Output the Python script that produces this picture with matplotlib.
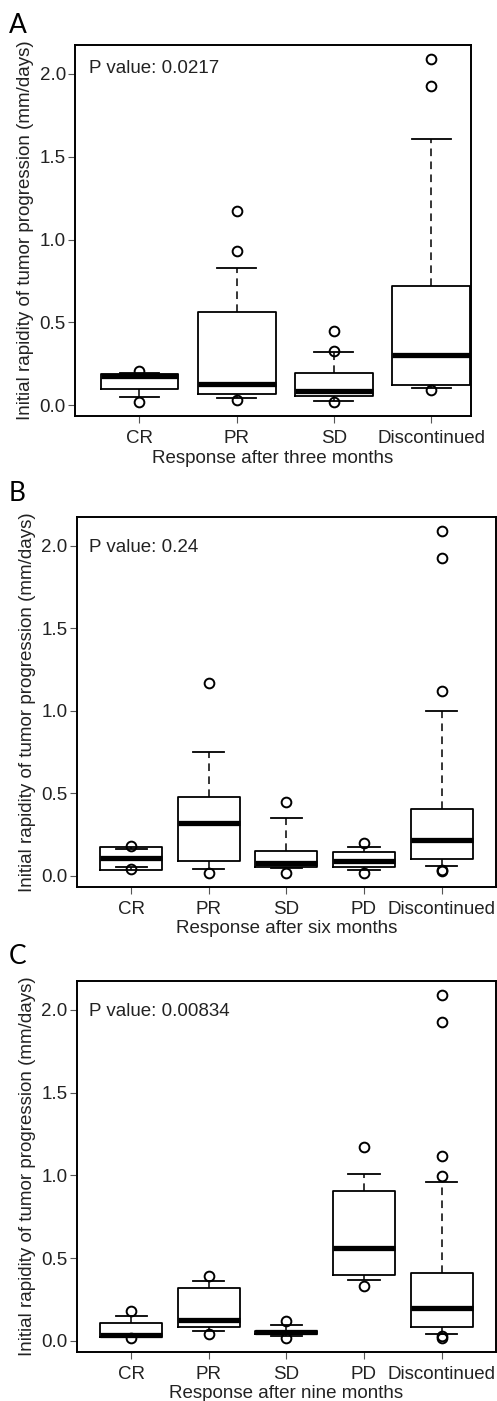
import matplotlib
matplotlib.use("Agg")
import matplotlib.pyplot as plt

plt.rcParams['font.family'] = ['Liberation Sans', 'DejaVu Sans']

# panel A: response after three months
cats_a = ["CR", "PR", "SD", "Discontinued"]
q1_a = [0.098, 0.066, 0.056, 0.121]
med_a = [0.177, 0.129, 0.086, 0.302]
q3_a = [0.189, 0.561, 0.197, 0.720]
lo_a = [0.052, 0.046, 0.028, 0.103]
hi_a = [0.193, 0.826, 0.324, 1.608]
fl_a = [[0.207, 0.022], [1.170, 0.931, 0.034], [0.448, 0.330, 0.022], [2.091, 1.930, 0.092]]

# panel B: response after six months
cats_b = ["CR", "PR", "SD", "PD", "Discontinued"]
q1_b = [0.036, 0.088, 0.054, 0.052, 0.103]
med_b = [0.111, 0.318, 0.078, 0.089, 0.219]
q3_b = [0.177, 0.477, 0.151, 0.143, 0.408]
lo_b = [0.054, 0.044, 0.050, 0.034, 0.058]
hi_b = [0.165, 0.750, 0.352, 0.177, 0.998]
fl_b = [[0.179, 0.040], [1.169, 0.020], [0.449, 0.020], [0.201, 0.020],
        [2.087, 1.926, 1.119, 0.034, 0.030]]

# panel C: response after nine months
cats_c = ["CR", "PR", "SD", "PD", "Discontinued"]
q1_c = [0.022, 0.083, 0.040, 0.399, 0.087]
med_c = [0.036, 0.127, 0.054, 0.563, 0.196]
q3_c = [0.107, 0.317, 0.063, 0.907, 0.409]
lo_c = [0.022, 0.063, 0.030, 0.369, 0.044]
hi_c = [0.149, 0.361, 0.095, 1.010, 0.962]
fl_c = [[0.179, 0.018], [0.391, 0.044], [0.123, 0.018], [1.169, 0.329],
        [2.091, 1.929, 1.117, 0.996, 0.030, 0.020]]

panels = [
    ("A", cats_a, q1_a, med_a, q3_a, lo_a, hi_a, fl_a, "P value: 0.0217",
     "Response after three months"),
    ("B", cats_b, q1_b, med_b, q3_b, lo_b, hi_b, fl_b, "P value: 0.24",
     "Response after six months"),
    ("C", cats_c, q1_c, med_c, q3_c, lo_c, hi_c, fl_c, "P value: 0.00834",
     "Response after nine months"),
]

# axes rectangles [left, bottom, width, height] in figure fraction
rects = [
    [0.1509, 0.7031, 0.7961, 0.2648],
    [0.1543, 0.3671, 0.8437, 0.2641],
    [0.1543, 0.0352, 0.8437, 0.2646],
]
xlims = [(0.337, 4.406), (0.30, 5.70), (0.30, 5.70)]
letter_y = [0.982, 0.648, 0.317]
ptxt_x = [0.035, 0.029, 0.029]
ptxt_y = [2.03, 1.99, 1.99]

fig = plt.figure(figsize=(4.97, 14.01), dpi=100)
txtc = '#222222'
fs = 13.5

for i, (let, cats, q1, med, q3, lo, hi, fl, ptxt, xlab) in enumerate(panels):
    ax = fig.add_axes(rects[i])
    stats = []
    for k in range(len(cats)):
        stats.append(dict(q1=q1[k], med=med[k], q3=q3[k], whislo=lo[k],
                          whishi=hi[k], fliers=fl[k], label=cats[k]))
    pos = list(range(1, len(cats) + 1))
    ax.bxp(stats, positions=pos, widths=0.8, capwidths=0.4,
           boxprops=dict(color='black', linewidth=1.3),
           medianprops=dict(color='black', linewidth=3.8, solid_capstyle='butt'),
           whiskerprops=dict(color='black', linewidth=1.1, linestyle=(0, (5, 3.5))),
           capprops=dict(color='black', linewidth=1.3),
           flierprops=dict(marker='o', markersize=7, markerfacecolor='none',
                           markeredgecolor='black', markeredgewidth=1.4))
    ax.set_xlim(*xlims[i])
    ax.set_ylim(-0.065, 2.175)
    ax.set_yticks([0.0, 0.5, 1.0, 1.5, 2.0])
    ax.set_yticklabels(["0.0", "0.5", "1.0", "1.5", "2.0"])
    ax.set_xticks(pos)
    ax.set_xticklabels(cats)
    ax.tick_params(axis='both', labelsize=fs, length=5, width=0.8,
                   color='#555555', labelcolor=txtc)
    ax.tick_params(axis='y', pad=1.5)
    ax.tick_params(axis='x', pad=5)
    for sp in ax.spines.values():
        sp.set_linewidth(1.4)
    ax.set_ylabel("Initial rapidity of tumor progression (mm/days)",
                  fontsize=fs, color=txtc, labelpad=4)
    ax.set_xlabel(xlab, fontsize=fs, color=txtc, labelpad=2)
    ax.text(ptxt_x[i], ptxt_y[i], ptxt, transform=ax.get_yaxis_transform(),
            fontsize=fs, color=txtc, va='center', ha='left')
    fig.text(0.018, letter_y[i], let, fontsize=19, family=['Lato', 'DejaVu Sans'],
             color='black', va='center', ha='left')

fig.savefig("out.png", dpi=100)
